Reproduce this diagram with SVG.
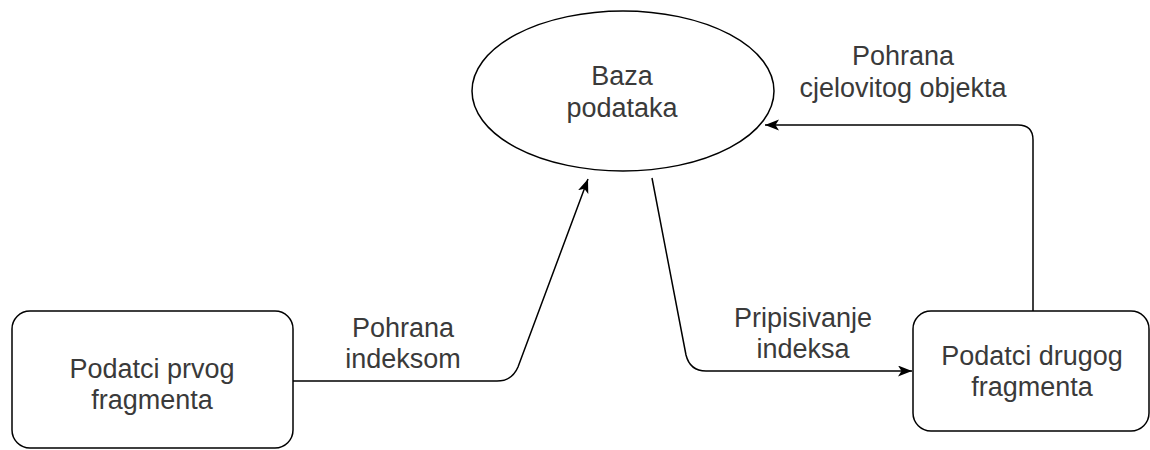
<svg xmlns="http://www.w3.org/2000/svg" width="1150" height="450" viewBox="0 0 1150 450">
  <defs>
    <marker id="arrow" markerWidth="15" markerHeight="12" refX="14" refY="5.5" orient="auto" markerUnits="userSpaceOnUse">
      <path d="M0,0 L14,5.5 L0,11 L3.5,5.5 Z" fill="#000"/>
    </marker>
    <style>
      .shape { fill: #fff; stroke: #000; stroke-width: 1.5; }
      .edge { fill: none; stroke: #000; stroke-width: 1.5; marker-end: url(#arrow); }
      .lbl { font-family: "Liberation Sans", Arial, sans-serif; font-size: 27px; fill: #3a3a3a; text-anchor: middle; }
    </style>
  </defs>
  <rect width="1150" height="450" fill="#fff"/>

  <g id="connectors">
    <path class="edge" d="M293,381 H497 Q512,381 518,367 L588,179"/>
    <path class="edge" d="M652,178 L686,355 Q690,371 706,371 H912"/>
    <path class="edge" d="M1033,311 V140 Q1033,125 1018,125 H765"/>
  </g>

  <g id="node-baza">
    <ellipse class="shape" cx="623" cy="91" rx="151" ry="80"/>
    <text class="lbl" x="622" y="85">Baza</text>
    <text class="lbl" x="622" y="117">podataka</text>
  </g>

  <g id="node-prvi">
    <rect class="shape" x="12" y="311" width="281" height="137" rx="18" ry="18"/>
    <text class="lbl" x="152" y="378">Podatci prvog</text>
    <text class="lbl" x="152" y="409">fragmenta</text>
  </g>

  <g id="node-drugi">
    <rect class="shape" x="913" y="311" width="236" height="120" rx="18" ry="18"/>
    <text class="lbl" x="1032" y="365">Podatci drugog</text>
    <text class="lbl" x="1032" y="396">fragmenta</text>
  </g>

  <g id="labels">
    <text class="lbl" x="403" y="337">Pohrana</text>
    <text class="lbl" x="403" y="368">indeksom</text>
    <text class="lbl" x="803" y="327">Pripisivanje</text>
    <text class="lbl" x="803" y="358">indeksa</text>
    <text class="lbl" x="903" y="65">Pohrana</text>
    <text class="lbl" x="903" y="97">cjelovitog objekta</text>
  </g>
</svg>
